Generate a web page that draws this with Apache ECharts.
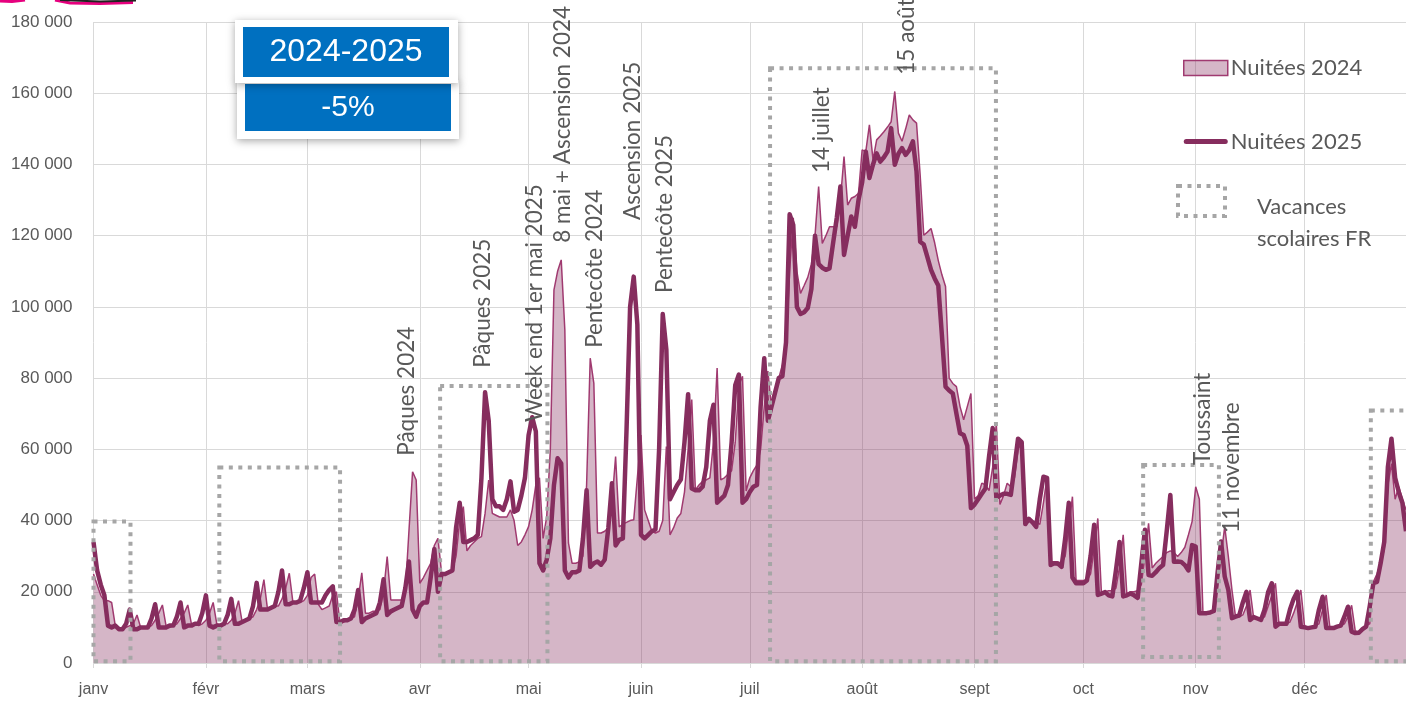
<!DOCTYPE html>
<html>
<head>
<meta charset="utf-8">
<script src="https://cdn.jsdelivr.net/npm/echarts@6/dist/echarts.min.js"></script>
<style>
  html, body { margin: 0; padding: 0; background: #fff; }
  #main { width: 1406px; height: 701px; }
</style>
</head>
<body>
<div id="main"></div>
<script>
// nuitées journalières, en milliers, du 1er janv (index 0) au 28 déc (index 362)
// une ligne = une semaine mer -> mar (calendrier 2025)
const nuitees2025 = [
  34, 26, 22, 19, 10.5, 10, 10.5,
  9.5, 9.5, 11, 15, 9.5, 9.5, 10,
  10, 10, 12.5, 16.5, 10, 10, 10,
  10.5, 10.5, 13, 17, 10, 10.5, 10.5,
  11, 11, 14, 19, 10.5, 10, 10.5,
  10.5, 11, 13.5, 18, 11, 11, 11.5,
  12, 12.5, 16, 22.5, 15, 15, 15,
  15.5, 16, 20, 26, 16.5, 16.5, 17,
  17, 17.5, 21, 25.5, 17, 17, 17,
  17, 19, 20.5, 21.5, 11.5, 11.5, 12,
  12, 12.5, 15, 20.5, 11.5, 12.5, 13,
  13.5, 14, 17, 23.5, 13.5, 14.5, 15,
  15.5, 16, 21, 28.5, 15, 13, 16,
  17, 17, 24, 32, 20, 25, 25,
  25.5, 26, 38, 45, 34, 34, 34.5,
  35, 36, 52, 76, 68, 46, 44,
  44, 43, 46, 51, 42.5, 43, 47,
  52, 64, 69, 65, 28, 26, 29,
  35, 50, 57.5, 56, 26, 24, 25.5,
  25.5, 26, 35, 48.5, 27, 28, 28.5,
  27.6, 29, 38, 50.5, 33, 34.6, 35,
  65, 100, 108.5, 95, 36, 35, 36,
  37, 37.5, 60, 98, 88, 46, 48,
  50, 51.5, 62, 75.5, 49, 48.5, 48.5,
  49.5, 55, 68, 72.5, 45, 46, 47,
  50, 62, 78, 81, 45, 46, 48,
  49.5, 50, 72, 85.6, 68, 72, 76,
  80, 80.5, 90, 126, 123, 100, 98,
  98.5, 99.7, 105, 120, 112, 111, 110.4,
  110.8, 118, 125, 133.8, 114.6, 120, 125.4,
  122.5, 130, 135, 143.6, 136.2, 140, 143.1,
  140.8, 142, 143.6, 150.2, 139.9, 143, 144.6,
  142.7, 144, 146.5, 138, 118.3, 117.5, 114,
  110.4, 108, 106, 92, 77.6, 76.5, 75.7,
  70, 64.5, 64, 61, 43.5, 44.5, 46,
  47.5, 49, 58, 66, 46.5, 47, 47.5,
  47.5, 47.2, 55, 63, 62, 39, 40.5,
  39.5, 38.2, 46, 52.3, 52, 27.5, 28,
  27.9, 27, 35, 45, 24, 22.4, 22.4,
  22.4, 23.2, 30, 38.8, 19.1, 19.5, 19.9,
  19, 18.7, 26, 34, 18.7, 19, 19.5,
  19, 18.3, 28, 37.4, 24.7, 24.5, 25.5,
  26.7, 27.5, 37, 47.2, 28.4, 28.5, 28.4,
  27.5, 26, 33.1, 32.7, 14, 14, 14,
  14.2, 14.6, 25, 34.1, 24.3, 20.5, 12.6,
  13, 13.4, 17, 20, 12.1, 12.9, 12.5,
  12.1, 15, 20, 22.4, 10.2, 11, 11,
  11, 15, 18, 20, 10.2, 10, 9.8,
  10, 10.2, 15, 18.6, 9.8, 9.8, 9.8,
  10.2, 10.5, 13, 15.8, 8.8, 8.4, 8.5,
  9.5, 10.2, 16, 22.4, 22.8, 28, 34,
  55, 63, 52, 48, 45, 37
];

const nuitees2024 = [
  25, 22, 19, 17.5, 17.5, 17, 10.5,
  10, 9.5, 10, 10.5, 11, 13.5, 10,
  10, 10, 10.5, 12, 14, 16.3, 10.5,
  10, 10.5, 11, 12.5, 14, 16.3, 11,
  11, 10.5, 11, 12, 14, 17, 11,
  10.5, 11, 11, 12, 14, 17.5, 11.5,
  12, 12.5, 13, 15, 18, 23.4, 15,
  15.5, 16, 16, 18, 21, 25.2, 17,
  17, 17, 17.5, 19, 24, 25, 16.5,
  15, 15.5, 16, 19, 20, 11, 11.5,
  12, 12.5, 13, 18, 25.3, 14, 14,
  14.5, 14.5, 15, 20, 29.9, 17.7, 17.7,
  17.7, 17.7, 20, 37, 53.7, 51.4, 22.4,
  24, 26, 28, 33, 35, 25.3, 25.3,
  25.3, 26, 30, 40, 43.9, 31.5, 33,
  34, 35, 35.5, 42, 51.4, 42, 41.5,
  41, 41, 41, 43, 40, 33, 34,
  36, 38.3, 43, 50, 52, 35, 41,
  60, 104.8, 110, 113.2, 93.5, 33.7, 28,
  28, 28.4, 30, 50, 85.6, 78.5, 36.5,
  36.5, 37, 38, 45, 58, 38.2, 39,
  39.5, 40, 40.2, 52, 64, 43, 40,
  37, 36.5, 37, 40, 60.8, 36, 38,
  40.7, 42, 48, 60, 74, 48.6, 50,
  51, 51.4, 52, 62, 82.8, 51.4, 52,
  53, 54, 62, 78, 80.5, 48.3, 52,
  54, 55.6, 60, 72, 82, 71.5, 76,
  80, 83.7, 88.6, 110, 125, 110, 103.8,
  106, 108.3, 112, 120, 133.8, 117.8, 120,
  122.5, 122.5, 122.5, 130, 142.2, 128.6, 130.5,
  131, 131.9, 144.1, 143.6, 151.1, 141.3, 146.9,
  148, 149.2, 150.5, 152, 160.5, 148.8, 146.5,
  150, 153.9, 152.5, 151.6, 137, 120.1, 121,
  122, 118, 113, 109, 105.7, 80, 78.5,
  77.6, 72, 68.3, 72, 75.7, 46, 47,
  50.5, 50, 48.4, 55, 67.3, 44.5, 47,
  50.5, 49.5, 52, 60, 62, 39.7, 39.7,
  39.7, 39.7, 38.9, 45, 52.3, 28.4, 28.4,
  28.4, 28, 30, 38, 46.7, 23.2, 23.2,
  23.2, 23.2, 25, 32, 40.6, 19.5, 20,
  20.3, 20.3, 21, 27, 36, 19.5, 20,
  20, 20.3, 22, 30, 39.2, 26.7, 28,
  29, 29.9, 31, 31.5, 31, 29.9, 31,
  32.5, 36, 39.7, 49.5, 46, 14, 14,
  14.3, 14.6, 21.5, 30, 38.3, 29.9, 20.5,
  12.9, 13, 13.5, 16, 20.5, 12.5, 12.5,
  12.5, 13, 16, 19, 22.4, 10.5, 11,
  11, 11.5, 14, 17, 20.5, 10.5, 10,
  10, 10.5, 11, 15, 19.1, 10, 10,
  10, 10.5, 11, 13, 16.2, 9, 8.8,
  9.5, 10.5, 11, 22.8, 25, 28, 32,
  50, 56, 46, 49.5, 46, 43
];

// premier jour de chaque mois (index) et libellés
const monthStarts = [0, 31, 59, 90, 120, 151, 181, 212, 243, 273, 304, 334];
const monthLabels = ['janv', 'févr', 'mars', 'avr', 'mai', 'juin', 'juil', 'août', 'sept', 'oct', 'nov', 'déc'];

// vacances scolaires : [jour début, jour fin, haut (milliers), bas (milliers)]
const vacances = [
  [0, 10.2, 39.7, 0.5],
  [34.7, 68, 54.9, 0.5],
  [95.6, 125.2, 77.8, 0.5],
  [186.6, 248.9, 167, 0.5],
  [289.5, 310.4, 55.6, 1.7],
  [352.3, 366, 70.9, 0.5]
];

// annotations verticales : [texte, jour, niveau de départ (milliers)]
const annotations = [
  ['Pâques 2024', 86.5, 58.2],
  ['Pâques 2025', 107.4, 82.9],
  ['Week end 1er mai 2025', 121.8, 67.7],
  ['8 mai + Ascension 2024', 129.5, 118],
  ['Pentecôte 2024', 138.3, 88.5],
  ['Ascension 2025', 148.8, 124.4],
  ['Pentecôte 2025', 157.6, 103.9],
  ['14 juillet', 200.9, 137.6],
  ['15 août', 224.3, 165.2],
  ['Toussaint', 305.9, 55.6],
  ['11 novembre', 313.9, 36.5]
];

const days = nuitees2025.map((v, i) => i);
const isMonthStart = (i) => monthStarts.indexOf(i) >= 0;

const GREY_TXT = '#595959';
const GRID_COL = '#d9d9d9';
const PLUM = '#862d5e';
const FILL = 'rgba(134,45,94,0.35)';

const chart = echarts.init(document.getElementById('main'));

chart.setOption({
  animation: false,
  backgroundColor: '#fff',
  grid: { left: 93.5, right: 0, top: 22, bottom: 38 },
  legend: {
    orient: 'vertical',
    left: 1183,
    top: 57,
    padding: 0,
    itemWidth: 44,
    itemHeight: 15,
    itemGap: 51.5,
    textStyle: { fontFamily: 'Lato', fontSize: 22, color: GREY_TXT, padding: [0, 0, 0, -2] },
    data: [
      { name: 'Nuitées 2024', icon: 'rect',
        itemStyle: { color: FILL, borderColor: '#a03a70', borderWidth: 1.5 } },
      { name: 'Nuitées 2025', icon: 'path://M2.5,0 L41.5,0 A2.5,2.5 0 0 1 41.5,5 L2.5,5 A2.5,2.5 0 0 1 2.5,0 Z',
        itemStyle: { color: PLUM } }
    ]
  },
  xAxis: [
    {
      type: 'category',
      data: days,
      boundaryGap: false,
      axisLine: { lineStyle: { color: GRID_COL, width: 1 } },
      axisTick: { show: true, length: 5, interval: (i) => isMonthStart(i), lineStyle: { color: GRID_COL } },
      splitLine: { show: true, interval: (i) => isMonthStart(i), lineStyle: { color: GRID_COL, width: 1 } },
      axisLabel: {
        interval: (i) => isMonthStart(i),
        formatter: (v, i) => monthLabels[monthStarts.indexOf(i)] || '',
        color: GREY_TXT,
        fontFamily: 'Liberation Sans',
        fontSize: 16,
        margin: 19
      }
    },
    { type: 'value', min: 0, max: nuitees2025.length - 1, show: false }
  ],
  yAxis: {
    type: 'value',
    min: 0,
    max: 180,
    interval: 20,
    axisLine: { show: false },
    axisTick: { show: false },
    splitLine: { lineStyle: { color: GRID_COL, width: 1 } },
    axisLabel: {
      color: GREY_TXT,
      fontFamily: 'Liberation Sans',
      fontSize: 17,
      margin: 21,
      formatter: (v) => (v === 0 ? '0' : v + ' 000')
    }
  },
  series: [
    {
      name: 'Nuitées 2024',
      type: 'line',
      data: nuitees2024,
      symbol: 'none',
      z: 2,
      lineStyle: { color: '#a03a70', width: 1.5 },
      itemStyle: { color: '#a03a70' },
      areaStyle: { color: FILL, opacity: 1 }
    },
    {
      name: 'Nuitées 2025',
      type: 'line',
      data: nuitees2025,
      symbol: 'none',
      z: 3,
      lineStyle: { color: PLUM, width: 4.5, join: 'round' },
      itemStyle: { color: PLUM }
    },
    {
      name: 'Vacances scolaires FR',
      type: 'custom',
      xAxisIndex: 1,
      z: 4,
      silent: true,
      data: vacances,
      encode: { x: [0, 1], y: [2, 3] },
      renderItem: function (params, api) {
        const p0 = api.coord([api.value(0), api.value(2)]);
        const p1 = api.coord([api.value(1), api.value(3)]);
        return {
          type: 'rect',
          shape: { x: p0[0], y: p0[1], width: p1[0] - p0[0], height: p1[1] - p0[1] },
          style: { fill: 'none', stroke: '#a6a6a6', lineWidth: 4, lineDash: [4, 5.5] }
        };
      }
    }
  ]
});

// textes verticaux, cartouches et légende des vacances
const graphics = [];

annotations.forEach(function (a) {
  const p = chart.convertToPixel({ xAxisIndex: 1, yAxisIndex: 0 }, [a[1], a[2]]);
  graphics.push({
    type: 'text',
    x: p[0],
    y: p[1],
    rotation: Math.PI / 2,
    z: 10,
    style: {
      text: a[0],
      fill: GREY_TXT,
      font: '22.5px Lato',
      align: 'left',
      verticalAlign: 'middle'
    }
  });
});

// cartouche "-5%" (dessous) puis "2024-2025"
graphics.push(
  { type: 'rect', z: 20, shape: { x: 237, y: 80, width: 222, height: 59 },
    style: { fill: '#fff', shadowBlur: 8, shadowColor: 'rgba(0,0,0,0.35)', shadowOffsetY: 2 } },
  { type: 'rect', z: 21, shape: { x: 245, y: 84, width: 206, height: 47 }, style: { fill: '#0070c0' } },
  { type: 'text', z: 22, x: 348, y: 108,
    style: { text: '-5%', fill: '#fff', font: '30px "Liberation Sans"', align: 'center', verticalAlign: 'middle' } },
  { type: 'rect', z: 23, shape: { x: 235, y: 20, width: 223, height: 63 },
    style: { fill: '#fff', shadowBlur: 8, shadowColor: 'rgba(0,0,0,0.35)', shadowOffsetY: 2 } },
  { type: 'rect', z: 24, shape: { x: 243, y: 27, width: 206, height: 50 }, style: { fill: '#0070c0' } },
  { type: 'text', z: 25, x: 346, y: 52,
    style: { text: '2024-2025', fill: '#fff', font: '32px "Liberation Sans"', align: 'center', verticalAlign: 'middle' } }
);

// légende "Vacances scolaires FR"
graphics.push(
  { type: 'rect', z: 20, shape: { x: 1178, y: 186, width: 47, height: 30 },
    style: { fill: 'none', stroke: '#a6a6a6', lineWidth: 4, lineDash: [4, 5.5] } },
  { type: 'text', z: 20, x: 1257, y: 207,
    style: { text: 'Vacances', fill: GREY_TXT, font: '22px Lato', align: 'left', verticalAlign: 'middle' } },
  { type: 'text', z: 20, x: 1257, y: 239,
    style: { text: 'scolaires FR', fill: GREY_TXT, font: '22px Lato', align: 'left', verticalAlign: 'middle' } }
);

// trait de surligneur coupé en haut à gauche
graphics.push(
  { type: 'polyline', z: 30, shape: { points: [[0, 1], [12, 1.5], [25, 0]] },
    style: { stroke: '#e6007e', lineWidth: 3, fill: 'none' } },
  { type: 'polyline', z: 30, shape: { points: [[55, 0], [70, 3], [100, 3.5], [133, 2.5]] },
    style: { stroke: '#e6007e', lineWidth: 3, fill: 'none' } },
  { type: 'polyline', z: 31, shape: { points: [[60, 0], [100, 1.5], [136, 0.5]] },
    style: { stroke: '#222', lineWidth: 2, fill: 'none' } }
);

chart.setOption({ graphic: graphics });
</script>
</body>
</html>
